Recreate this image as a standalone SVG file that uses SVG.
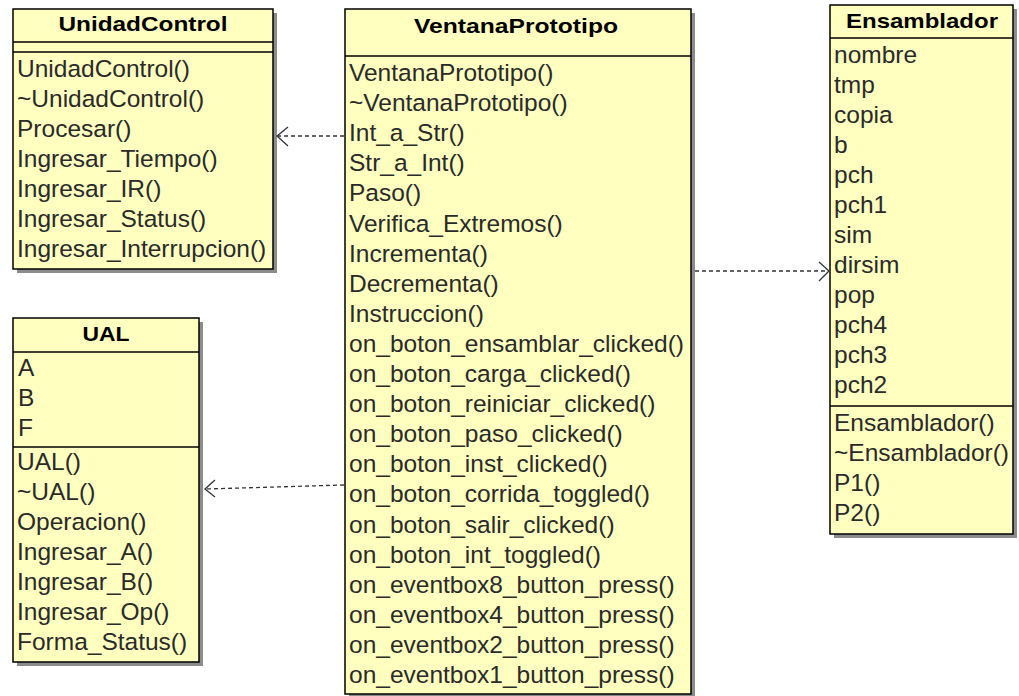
<svg xmlns="http://www.w3.org/2000/svg" width="1019" height="696" viewBox="0 0 1019 696">
<style>
.shadow{fill:#8c8c8c}
.box{fill:#ffffc0;stroke:#000;stroke-width:1.5}
.sep{stroke:#000;stroke-width:1.5}
.title{font-family:"Liberation Sans",Arial,sans-serif;font-weight:bold;font-size:21px;fill:#000;text-anchor:middle}
.item{font-family:"Liberation Sans",Arial,sans-serif;font-size:24.5px;fill:#2a2a2a}
.dep{fill:none;stroke:#333;stroke-width:1.3;stroke-dasharray:4 3}
.head{fill:none;stroke:#333;stroke-width:1.3}
</style>
<rect width="1019" height="696" fill="#fff"/>

<!-- class UnidadControl -->
<g id="UnidadControl">
  <rect class="shadow" x="17" y="13" width="260" height="260"/>
  <rect class="box" x="13" y="9" width="260" height="260"/>
  <line class="sep" x1="13" y1="42" x2="273" y2="42"/>
  <line class="sep" x1="13" y1="52" x2="273" y2="52"/>
  <text class="title" x="143" y="31" textLength="169" lengthAdjust="spacingAndGlyphs">UnidadControl</text>
  <text class="item" x="17" y="77">UnidadControl()</text>
  <text class="item" x="17" y="107">~UnidadControl()</text>
  <text class="item" x="17" y="137">Procesar()</text>
  <text class="item" x="17" y="167">Ingresar_Tiempo()</text>
  <text class="item" x="17" y="197">Ingresar_IR()</text>
  <text class="item" x="17" y="227">Ingresar_Status()</text>
  <text class="item" x="17" y="257">Ingresar_Interrupcion()</text>
</g>

<!-- class UAL -->
<g id="UAL">
  <rect class="shadow" x="17" y="322" width="186" height="344"/>
  <rect class="box" x="13" y="318" width="186" height="344"/>
  <line class="sep" x1="13" y1="352" x2="199" y2="352"/>
  <line class="sep" x1="13" y1="447" x2="199" y2="447"/>
  <text class="title" x="106" y="341" textLength="47" lengthAdjust="spacingAndGlyphs">UAL</text>
  <text class="item" x="18" y="376">A</text>
  <text class="item" x="18" y="406">B</text>
  <text class="item" x="18" y="436">F</text>
  <text class="item" x="17" y="470">UAL()</text>
  <text class="item" x="17" y="500">~UAL()</text>
  <text class="item" x="17" y="530">Operacion()</text>
  <text class="item" x="17" y="560">Ingresar_A()</text>
  <text class="item" x="17" y="590">Ingresar_B()</text>
  <text class="item" x="17" y="620">Ingresar_Op()</text>
  <text class="item" x="17" y="650">Forma_Status()</text>
</g>

<!-- class VentanaPrototipo -->
<g id="VentanaPrototipo">
  <rect class="shadow" x="349" y="13" width="346" height="685"/>
  <rect class="box" x="345" y="9" width="346" height="685"/>
  <line class="sep" x1="345" y1="56" x2="691" y2="56"/>
  <text class="title" x="516" y="33" textLength="204" lengthAdjust="spacingAndGlyphs">VentanaPrototipo</text>
  <text class="item" x="349" y="81">VentanaPrototipo()</text>
  <text class="item" x="349" y="111">~VentanaPrototipo()</text>
  <text class="item" x="349" y="141">Int_a_Str()</text>
  <text class="item" x="349" y="171">Str_a_Int()</text>
  <text class="item" x="349" y="201">Paso()</text>
  <text class="item" x="349" y="232">Verifica_Extremos()</text>
  <text class="item" x="349" y="262">Incrementa()</text>
  <text class="item" x="349" y="292">Decrementa()</text>
  <text class="item" x="349" y="322">Instruccion()</text>
  <text class="item" x="349" y="352">on_boton_ensamblar_clicked()</text>
  <text class="item" x="349" y="382">on_boton_carga_clicked()</text>
  <text class="item" x="349" y="412">on_boton_reiniciar_clicked()</text>
  <text class="item" x="349" y="442">on_boton_paso_clicked()</text>
  <text class="item" x="349" y="472">on_boton_inst_clicked()</text>
  <text class="item" x="349" y="502">on_boton_corrida_toggled()</text>
  <text class="item" x="349" y="533">on_boton_salir_clicked()</text>
  <text class="item" x="349" y="563">on_boton_int_toggled()</text>
  <text class="item" x="349" y="593">on_eventbox8_button_press()</text>
  <text class="item" x="349" y="623">on_eventbox4_button_press()</text>
  <text class="item" x="349" y="653">on_eventbox2_button_press()</text>
  <text class="item" x="349" y="683">on_eventbox1_button_press()</text>
</g>

<!-- class Ensamblador -->
<g id="Ensamblador">
  <rect class="shadow" x="834" y="9" width="183" height="529"/>
  <rect class="box" x="830" y="5" width="183" height="529"/>
  <line class="sep" x1="830" y1="38" x2="1013" y2="38"/>
  <line class="sep" x1="830" y1="406" x2="1013" y2="406"/>
  <text class="title" x="922" y="28" textLength="152" lengthAdjust="spacingAndGlyphs">Ensamblador</text>
  <text class="item" x="834" y="63">nombre</text>
  <text class="item" x="834" y="93">tmp</text>
  <text class="item" x="834" y="123">copia</text>
  <text class="item" x="834" y="153">b</text>
  <text class="item" x="834" y="183">pch</text>
  <text class="item" x="834" y="213">pch1</text>
  <text class="item" x="834" y="243">sim</text>
  <text class="item" x="834" y="273">dirsim</text>
  <text class="item" x="834" y="303">pop</text>
  <text class="item" x="834" y="333">pch4</text>
  <text class="item" x="834" y="363">pch3</text>
  <text class="item" x="834" y="393">pch2</text>
  <text class="item" x="834" y="431">Ensamblador()</text>
  <text class="item" x="834" y="461">~Ensamblador()</text>
  <text class="item" x="834" y="491">P1()</text>
  <text class="item" x="834" y="521">P2()</text>
</g>

<!-- dependency arrows (dashed line, open head) -->
<g id="connectors">
  <line class="dep" x1="344" y1="136" x2="278" y2="136"/>
  <path class="head" d="M288,127 L277,136 L288,146"/>
  <line class="dep" x1="344" y1="485" x2="206" y2="489"/>
  <path class="head" d="M215,480 L205,489 L215,497"/>
  <line class="dep" x1="695" y1="271" x2="828" y2="271"/>
  <path class="head" d="M819,262 L829,271 L819,281"/>
</g>
</svg>
